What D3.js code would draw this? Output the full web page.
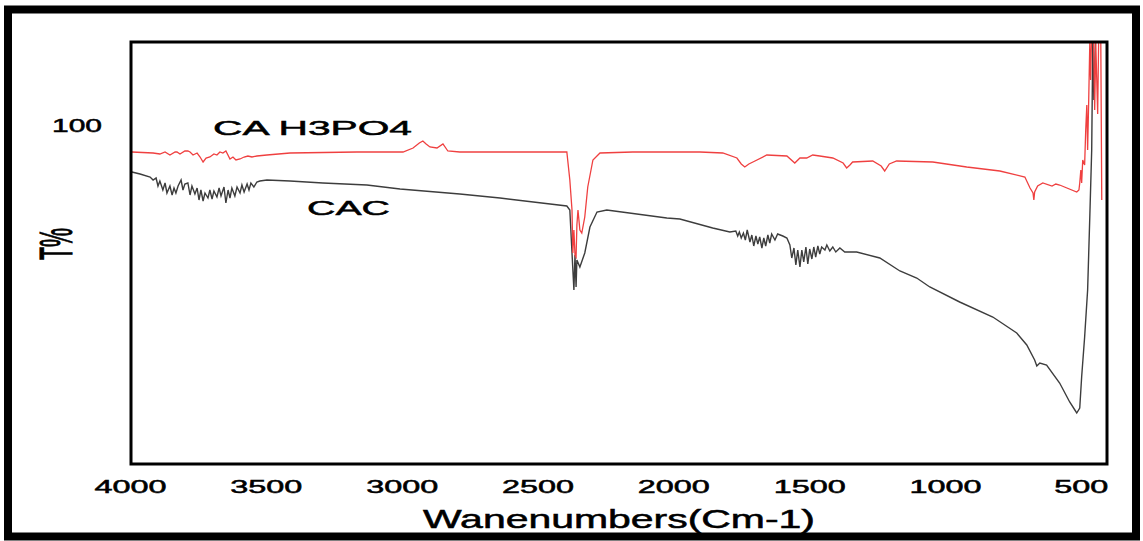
<!DOCTYPE html>
<html>
<head>
<meta charset="utf-8">
<script src="https://cdn.jsdelivr.net/npm/d3@7/dist/d3.min.js"></script>
<style>
  html, body { margin: 0; padding: 0; background: #fff; }
  svg { display: block; }
  text { font-family: "Liberation Sans", Arial, sans-serif; fill: #000; stroke: #000; stroke-width: 0.5px; }
</style>
</head>
<body>
<svg id="chart" width="1143" height="541"></svg>
<script>
// FTIR spectra: wavenumber (cm-1) vs transmittance (T%)
const xTicks = [4000, 3500, 3000, 2500, 2000, 1500, 1000, 500];
const yTicks = [100];

// CA H3PO4 spectrum
const caWave = [3993, 3915, 3890, 3871, 3853, 3834, 3827, 3816, 3798, 3787, 3779, 3768, 3753, 3742, 3731, 3720, 3706, 3691, 3680, 3669, 3658, 3647, 3632, 3621, 3610, 3595, 3580, 3566, 3551, 3533, 3496, 3411, 3165, 2995, 2958, 2935, 2922, 2910, 2896, 2870, 2848, 2830, 2786, 2392, 2381, 2373, 2370, 2366, 2362, 2358, 2355, 2351, 2344, 2337, 2326, 2315, 2296, 2270, 2149, 1902, 1818, 1766, 1750, 1737, 1722, 1707, 1656, 1582, 1553, 1534, 1509, 1487, 1461, 1413, 1375, 1362, 1350, 1340, 1266, 1235, 1222, 1205, 1178, 1045, 920, 798, 706, 687, 676, 673, 670, 659, 640, 606, 592, 578, 515, 507, 504, 500, 497, 493, 486, 482, 478, 475, 471, 467, 464, 460, 453, 449, 445, 438, 434, 427, 423];
const caT = [93.25, 93, 92.75, 93.25, 92.5, 93.25, 93.25, 92.75, 93.5, 93.5, 93.25, 92.5, 93, 92, 90.75, 91.75, 92, 92.75, 92.5, 93.25, 93, 93.5, 91.5, 92, 91.25, 91.5, 92, 92.25, 92, 92.25, 92.5, 93, 93.25, 93.25, 94.25, 95.5, 96, 95.25, 94.5, 94.25, 95.25, 93.5, 93.25, 93.25, 86.25, 78.75, 68, 73.75, 67.5, 67, 75, 78.75, 73.75, 73, 77, 84.5, 91.25, 93, 93.25, 93.25, 93, 91.75, 90.25, 89.5, 90.25, 90.75, 92.5, 92.25, 90.5, 91.75, 91.75, 92.5, 92.25, 91.75, 90.5, 89.25, 90, 90.75, 91, 89.75, 88.5, 90.25, 91, 90.75, 89.5, 88.5, 87, 84.25, 83, 81.25, 83.25, 84.75, 85.5, 84.75, 85.25, 85, 83.25, 83.75, 85.5, 88.75, 85.5, 91.25, 90, 98.75, 105, 93.75, 106.25, 120.5, 111.25, 123.75, 121.25, 103.75, 120.5, 102.75, 123.75, 126.25, 81.25];

// CAC spectrum
const cacWave = [3993, 3963, 3926, 3915, 3904, 3897, 3890, 3879, 3871, 3864, 3853, 3845, 3838, 3831, 3823, 3812, 3805, 3798, 3787, 3779, 3772, 3761, 3753, 3746, 3739, 3731, 3724, 3713, 3706, 3698, 3691, 3680, 3672, 3665, 3654, 3647, 3639, 3632, 3625, 3614, 3606, 3595, 3588, 3580, 3569, 3562, 3555, 3544, 3533, 3522, 3496, 3411, 3290, 3128, 3006, 2786, 2638, 2392, 2381, 2373, 2366, 2362, 2358, 2355, 2344, 2326, 2307, 2281, 2245, 2024, 1976, 1855, 1792, 1770, 1763, 1757, 1750, 1742, 1735, 1728, 1718, 1711, 1704, 1696, 1689, 1682, 1674, 1667, 1660, 1652, 1645, 1638, 1626, 1616, 1597, 1582, 1571, 1564, 1556, 1549, 1542, 1534, 1527, 1520, 1512, 1505, 1498, 1490, 1483, 1476, 1468, 1461, 1454, 1442, 1435, 1424, 1413, 1402, 1387, 1369, 1325, 1240, 1166, 1104, 1056, 946, 824, 736, 699, 670, 662, 651, 626, 578, 541, 522, 515, 504, 497, 486, 475, 467, 460, 456, 452, 445, 400];
const cacT = [88.25, 87.75, 87, 86.25, 86.75, 84.75, 86, 83.75, 85.5, 83, 84.75, 82.5, 84.25, 83, 84.75, 86.25, 83.75, 85.25, 85.5, 82.5, 84.75, 82.75, 84.25, 81.25, 83.75, 81, 83, 81.75, 83.75, 81.5, 83.5, 82, 84.25, 82.25, 84.5, 80.5, 83.75, 81.75, 84.25, 82.25, 84.5, 83, 85, 83.25, 85.25, 83.75, 85.5, 84.5, 85.75, 86, 86.25, 86, 85.5, 85, 84, 82.75, 81.75, 79.75, 78.75, 68, 58.75, 67.5, 59.5, 66.25, 64.5, 68, 74.5, 78.25, 78.75, 76.75, 76.5, 74.25, 73.25, 73.5, 72.25, 73.25, 71.75, 73, 71.25, 73.75, 70.75, 72.5, 69.75, 72.25, 70.25, 72, 69.25, 71.75, 69.75, 72.5, 70.5, 72.75, 71.25, 72.75, 72.25, 71.75, 70, 66.75, 69.25, 65, 68.75, 64.5, 68.75, 65.75, 69.5, 65.25, 69, 66.5, 69.5, 67, 69.75, 67.75, 69.5, 68.75, 70, 68.5, 69.5, 68.25, 69.25, 68.25, 68.25, 66.75, 63.5, 61.75, 59.5, 55.75, 52, 48, 45, 41.25, 39.75, 40.5, 40, 35.5, 30.75, 28.75, 28, 29.25, 37, 47, 58.75, 77, 93.75, 121, 106.25, 123.75, 126.25];

const svg = d3.select("#chart");

const x = d3.scaleLinear().domain([4000, 400]).range([130, 1108]);
const y = d3.scaleLinear().domain([15.25, 121]).range([464, 41]);

// outer frame
svg.append("rect")
  .attr("x", 8).attr("y", 9.5).attr("width", 1128).attr("height", 527)
  .attr("fill", "none").attr("stroke", "#000").attr("stroke-width", 8);

// clip spectra to the plot area
svg.append("clipPath").attr("id", "plot-clip")
  .append("rect").attr("x", 131).attr("y", 42).attr("width", 976).attr("height", 422);

const line = d3.line().x(d => x(d[0])).y(d => y(d[1]));

const plot = svg.append("g").attr("clip-path", "url(#plot-clip)");

plot.append("path")
  .datum(cacWave.map((w, i) => [w, cacT[i]]))
  .attr("d", line)
  .attr("fill", "none").attr("stroke", "#3d3d3d").attr("stroke-width", 1.4);

plot.append("path")
  .datum(caWave.map((w, i) => [w, caT[i]]))
  .attr("d", line)
  .attr("fill", "none").attr("stroke", "#ef4040").attr("stroke-width", 1.3);

// plot frame
svg.append("rect")
  .attr("x", 131).attr("y", 42).attr("width", 976).attr("height", 422)
  .attr("fill", "none").attr("stroke", "#000").attr("stroke-width", 3);

// x axis labels
const xAxis = svg.append("g")
  .call(d3.axisBottom(x).tickValues(xTicks).tickSize(0).tickFormat(d3.format("d")));
xAxis.select(".domain").remove();
xAxis.selectAll("text")
  .attr("y", 493).attr("dy", null)
  .attr("font-size", 18)
  .attr("fill", "#000")
  .attr("font-family", "Liberation Sans, Arial, sans-serif")
  .attr("textLength", d => String(d).length * 18)
  .attr("lengthAdjust", "spacingAndGlyphs");

// y axis label
const yAxis = svg.append("g")
  .call(d3.axisLeft(y).tickValues(yTicks).tickSize(0));
yAxis.select(".domain").remove();
yAxis.selectAll("text")
  .attr("x", 77).attr("dy", "0.37em")
  .attr("text-anchor", "middle")
  .attr("font-size", 18)
  .attr("fill", "#000")
  .attr("font-family", "Liberation Sans, Arial, sans-serif")
  .attr("textLength", 50)
  .attr("lengthAdjust", "spacingAndGlyphs");

// axis titles
svg.append("text")
  .attr("x", 423).attr("y", 528)
  .attr("font-size", 25)
  .attr("textLength", 392).attr("lengthAdjust", "spacingAndGlyphs")
  .text("Wanenumbers(Cm-1)");

svg.append("text")
  .attr("transform", "translate(72,260) scale(2.2,1) rotate(-90)")
  .attr("font-size", 21)
  .attr("textLength", 32).attr("lengthAdjust", "spacingAndGlyphs")
  .text("T%");

// series labels
svg.append("text")
  .attr("x", 213).attr("y", 135)
  .attr("font-size", 21)
  .attr("textLength", 199).attr("lengthAdjust", "spacingAndGlyphs")
  .text("CA H3PO4");

svg.append("text")
  .attr("x", 307).attr("y", 215)
  .attr("font-size", 21)
  .attr("textLength", 83).attr("lengthAdjust", "spacingAndGlyphs")
  .text("CAC");
</script>
</body>
</html>
